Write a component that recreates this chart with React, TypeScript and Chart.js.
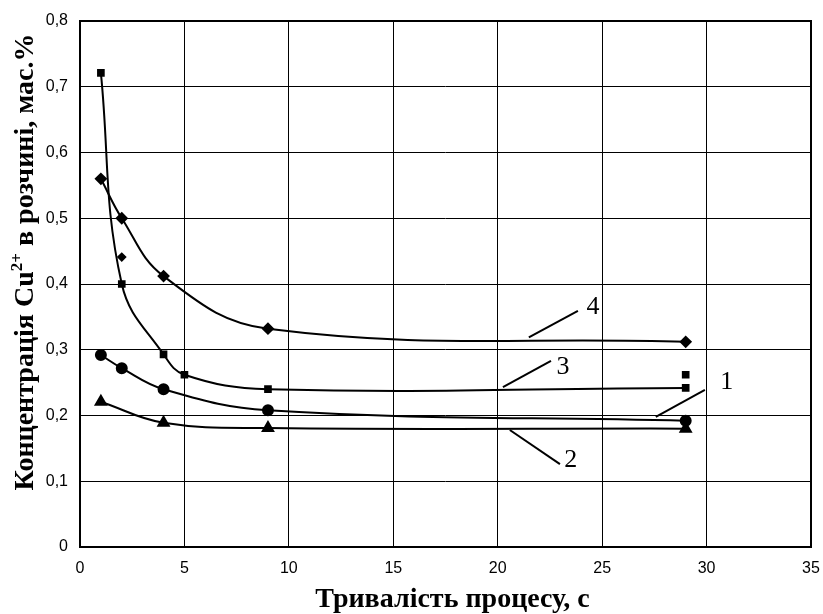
import React, { useEffect, useRef } from "react";
import { Chart, registerables } from "chart.js";

Chart.register(...registerables);

// x values (s)
const xCurve1 = [1, 2, 4, 9, 29];
const yCurve1 = [0.292, 0.272, 0.240, 0.208, 0.192];

const xCurve2 = [1, 4, 9, 29];
const yCurve2 = [0.221, 0.189, 0.181, 0.180];

const xCurve3 = [1, 2, 4, 5, 9, 29];
const yCurve3 = [0.721, 0.400, 0.293, 0.262, 0.240, 0.242];

const xCurve4 = [1, 2, 4, 9, 29];
const yCurve4 = [0.560, 0.500, 0.412, 0.332, 0.312];

// stray marker points
const xExtraDiamond = [2];
const yExtraDiamond = [0.441];
const xExtraSquare = [29];
const yExtraSquare = [0.262];

const xTicks = [0, 5, 10, 15, 20, 25, 30, 35];
const yTicks = [0, 0.1, 0.2, 0.3, 0.4, 0.5, 0.6, 0.7, 0.8];

const xTitle = "Тривалість процесу, с";
const yTitleParts = ["Концентрація Cu", "2+", " в розчині, мас.%"];

const curveLabels = ["1", "2", "3", "4"];
// label text position and leader line (data coordinates)
const labelText = [
  { x: 30.97, y: 0.251 },
  { x: 23.5, y: 0.132 },
  { x: 23.12, y: 0.274 },
  { x: 24.56, y: 0.365 },
];
const labelLine = [
  { x1: 27.57, y1: 0.198, x2: 29.92, y2: 0.239 },
  { x1: 20.58, y1: 0.178, x2: 22.98, y2: 0.126 },
  { x1: 20.25, y1: 0.243, x2: 22.55, y2: 0.283 },
  { x1: 21.49, y1: 0.319, x2: 23.84, y2: 0.359 },
];

const pts = (xs: number[], ys: number[]) => xs.map((x, i) => ({ x, y: ys[i] }));

const SERIF = "'Liberation Serif', 'Times New Roman', serif";

const annotPlugin = {
  id: "annot",
  afterDatasetsDraw(chart: any) {
    const { ctx, scales } = chart;
    const xs = scales.x;
    const ys = scales.y;
    ctx.save();
    ctx.strokeStyle = "#000";
    ctx.lineWidth = 2;
    labelLine.forEach((l) => {
      ctx.beginPath();
      ctx.moveTo(xs.getPixelForValue(l.x1), ys.getPixelForValue(l.y1));
      ctx.lineTo(xs.getPixelForValue(l.x2), ys.getPixelForValue(l.y2));
      ctx.stroke();
    });
    ctx.fillStyle = "#000";
    ctx.font = `26px ${SERIF}`;
    ctx.textAlign = "center";
    ctx.textBaseline = "middle";
    curveLabels.forEach((t, i) => {
      ctx.fillText(t, xs.getPixelForValue(labelText[i].x), ys.getPixelForValue(labelText[i].y));
    });
    ctx.restore();
  },
};

const titlePlugin = {
  id: "titles",
  afterDraw(chart: any) {
    const { ctx, chartArea: a } = chart;
    ctx.save();
    ctx.fillStyle = "#000";
    // x title
    ctx.font = `bold 28px ${SERIF}`;
    ctx.textAlign = "center";
    ctx.textBaseline = "alphabetic";
    ctx.fillText(xTitle, (a.left + a.right) / 2 + 7, 607);
    // y title with superscript
    const bigFont = `bold 28px ${SERIF}`;
    const supFont = `bold 17px ${SERIF}`;
    ctx.font = bigFont;
    const w0 = ctx.measureText(yTitleParts[0]).width;
    const w2 = ctx.measureText(yTitleParts[2]).width;
    ctx.font = supFont;
    const w1 = ctx.measureText(yTitleParts[1]).width;
    const total = w0 + w1 + w2;
    ctx.translate(33, (a.top + a.bottom) / 2 - 22);
    ctx.rotate(-Math.PI / 2);
    ctx.textAlign = "left";
    let x = -total / 2;
    ctx.font = bigFont;
    ctx.fillText(yTitleParts[0], x, 0);
    x += w0;
    ctx.font = supFont;
    ctx.fillText(yTitleParts[1], x, -11);
    x += w1;
    ctx.font = bigFont;
    ctx.fillText(yTitleParts[2], x, 0);
    ctx.restore();
  },
};

const borderPlugin = {
  id: "box",
  afterDraw(chart: any) {
    const { ctx, chartArea: a } = chart;
    ctx.save();
    ctx.strokeStyle = "#000";
    ctx.lineWidth = 2;
    ctx.strokeRect(a.left, a.top, a.right - a.left, a.bottom - a.top);
    ctx.restore();
  },
};

export default function App() {
  const ref = useRef<HTMLCanvasElement>(null);
  useEffect(() => {
    if (!ref.current) return;
    const common = {
      borderColor: "#000",
      backgroundColor: "#000",
      pointBackgroundColor: "#000",
      pointBorderColor: "#000",
      borderWidth: 2,
      tension: 0.4,
      fill: false,
    };
    const chart = new Chart(ref.current, {
      type: "line",
      data: {
        datasets: [
          { ...common, label: "1", data: pts(xCurve1, yCurve1), pointStyle: "circle", pointRadius: 5 },
          { ...common, label: "2", data: pts(xCurve2, yCurve2), pointStyle: "triangle", pointRadius: 6 },
          { ...common, label: "3", data: pts(xCurve3, yCurve3), pointStyle: "rect", pointRadius: 4 },
          { ...common, label: "4", data: pts(xCurve4, yCurve4), pointStyle: "rectRot", pointRadius: 5 },
          { ...common, label: "e1", data: pts(xExtraDiamond, yExtraDiamond), pointStyle: "rectRot", pointRadius: 3.5, showLine: false },
          { ...common, label: "e2", data: pts(xExtraSquare, yExtraSquare), pointStyle: "rect", pointRadius: 4, showLine: false },
        ],
      },
      options: {
        animation: false,
        responsive: false,
        maintainAspectRatio: false,
        layout: { padding: { top: 21, right: 12, left: 0, bottom: 0 } },
        plugins: { legend: { display: false }, tooltip: { enabled: false } },
        scales: {
          x: {
            type: "linear",
            min: 0,
            max: 35,
            afterBuildTicks: (s: any) => {
              s.ticks = xTicks.map((v) => ({ value: v }));
            },
            afterFit: (s: any) => {
              s.height = 67;
              s.paddingLeft = 0;
              s.paddingRight = 0;
            },
            grid: { color: "#000", lineWidth: 1, drawTicks: false },
            border: { display: false },
            ticks: {
              color: "#000",
              padding: 12,
              font: { family: "'Liberation Sans', Arial, sans-serif", size: 16 },
            },
          },
          y: {
            type: "linear",
            min: 0,
            max: 0.8,
            afterBuildTicks: (s: any) => {
              s.ticks = yTicks.map((v) => ({ value: v }));
            },
            afterFit: (s: any) => {
              s.width = 80;
              s.paddingTop = 0;
              s.paddingBottom = 0;
            },
            grid: { color: "#000", lineWidth: 1, drawTicks: false },
            border: { display: false },
            ticks: {
              color: "#000",
              padding: 12,
              font: { family: "'Liberation Sans', Arial, sans-serif", size: 16 },
              callback: (v: any) => (v === 0 ? "0" : Number(v).toFixed(1).replace(".", ",")),
            },
          },
        },
      },
      plugins: [annotPlugin, borderPlugin, titlePlugin],
    } as any);
    return () => chart.destroy();
  }, []);
  return (
    <div style={{ position: "fixed", left: 0, top: 0, width: 823, height: 614, background: "#fff" }}>
      <canvas ref={ref} width={823} height={614} style={{ width: 823, height: 614 }} />
    </div>
  );
}
